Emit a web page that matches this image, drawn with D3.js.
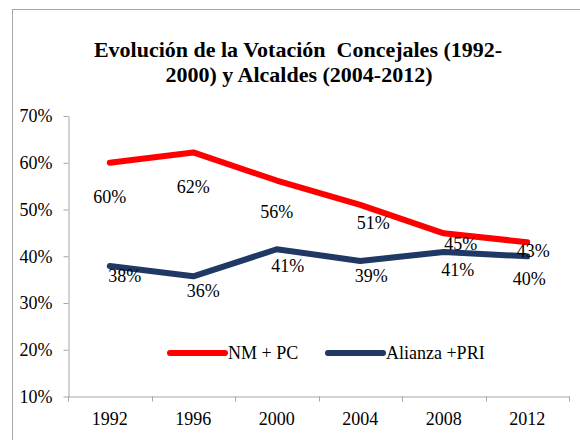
<!DOCTYPE html>
<html>
<head>
<meta charset="utf-8">
<script src="https://cdn.jsdelivr.net/npm/d3@7"></script>
<style>
  body { margin: 0; background: #fff; }
</style>
</head>
<body>
<script>
var years = ['1992', '1996', '2000', '2004', '2008', '2012'];
var nmpc = [60.0, 62.2, 56.2, 51.0, 44.9, 43.0];
var alianza = [37.9, 35.7, 41.5, 39.0, 40.9, 40.0];
var nmpcLabels = ['60%', '62%', '56%', '51%', '45%', '43%'];
var alianzaLabels = ['38%', '36%', '41%', '39%', '41%', '40%'];
var yTicks = [10, 20, 30, 40, 50, 60, 70];
var seriesNames = ['NM + PC', 'Alianza +PRI'];

// label nudges as the source chart has them (dx, dy in px)
var nmpcNudge = [[0, 34], [0, 34], [0, 31], [13, 18], [17, 10], [6, 8]];
var alianzaNudge = [[15, 10], [10, 14], [11, 16], [11, 15], [14, 18], [2, 22]];

var w = 580, h = 440;
var red = '#ff0000', navy = '#1f3864';
var serif = 'Liberation Serif';

var svg = d3.select('body').append('svg')
    .attr('width', w)
    .attr('height', h);

// chart frame
svg.append('rect')
    .attr('x', 12.5).attr('y', 9.5)
    .attr('width', 700).attr('height', 600)
    .attr('fill', 'none')
    .attr('stroke', '#a6a6a6');

svg.append('text')
    .attr('x', 298).attr('y', 57)
    .attr('text-anchor', 'middle')
    .style('font-family', serif)
    .style('font-size', '22px').style('font-weight', 'bold')
    .text('Evolución de la Votación\u00a0 Concejales (1992-');
svg.append('text')
    .attr('x', 299).attr('y', 82)
    .attr('text-anchor', 'middle')
    .style('font-family', serif)
    .style('font-size', '22px').style('font-weight', 'bold')
    .text('2000) y Alcaldes (2004-2012)');

var x = d3.scaleBand().domain(years).range([68, 569]);
var y = d3.scaleLinear().domain([10, 70]).range([396.5, 116]);

var yAxis = svg.append('g')
    .attr('transform', 'translate(68.5,0)')
    .call(d3.axisLeft(y).tickValues(yTicks).tickFormat(function(d) { return d + '%'; })
        .tickSize(5).tickSizeOuter(0).tickPadding(11));
yAxis.selectAll('text').style('font-family', serif).style('font-size', '18px').attr('fill', '#000');
yAxis.selectAll('line, path').attr('stroke', '#a6a6a6');

var xAxis = svg.append('g')
    .attr('transform', 'translate(0,396.5)')
    .call(d3.axisBottom(x).tickSize(0).tickPadding(16));
xAxis.selectAll('text').style('font-family', serif).style('font-size', '18px').attr('fill', '#000');
xAxis.select('path').attr('stroke', '#a6a6a6');
xAxis.selectAll('.tick line').remove();
xAxis.selectAll('line.bound')
    .data(years.map(function(d) { return x(d); }).concat([x.range()[1]]))
    .enter().append('line')
    .attr('class', 'bound')
    .attr('x1', function(d) { return Math.round(d) + 0.5; })
    .attr('x2', function(d) { return Math.round(d) + 0.5; })
    .attr('y1', 0).attr('y2', 5)
    .attr('stroke', '#a6a6a6');

var cx = function(d, i) { return x(years[i]) + x.bandwidth() / 2; };

var line = d3.line()
    .x(function(d, i) { return cx(d, i); })
    .y(function(d) { return y(d); });

var series = [
    { values: nmpc, labels: nmpcLabels, nudge: nmpcNudge, color: red },
    { values: alianza, labels: alianzaLabels, nudge: alianzaNudge, color: navy }
];

series.forEach(function(s) {
    svg.append('path')
        .datum(s.values)
        .attr('d', line)
        .attr('fill', 'none')
        .attr('stroke', s.color)
        .attr('stroke-width', 6)
        .attr('stroke-linejoin', 'round')
        .attr('stroke-linecap', 'round');
});

series.forEach(function(s) {
    svg.selectAll(null)
        .data(s.values)
        .enter().append('text')
        .attr('x', function(d, i) { return cx(d, i) + s.nudge[i][0]; })
        .attr('y', function(d, i) { return y(d) + s.nudge[i][1]; })
        .attr('dy', '0.35em')
        .attr('text-anchor', 'middle')
        .style('font-family', serif)
        .style('font-size', '18px')
        .text(function(d, i) { return s.labels[i]; });
});

// legend
var legend = svg.append('g').attr('transform', 'translate(0,353)');
var legendX = [170, 328];
seriesNames.forEach(function(name, i) {
    legend.append('line')
        .attr('x1', legendX[i]).attr('x2', legendX[i] + 55)
        .attr('y1', 0).attr('y2', 0)
        .attr('stroke', series[i].color)
        .attr('stroke-width', 6)
        .attr('stroke-linecap', 'round');
    legend.append('text')
        .attr('x', legendX[i] + 58)
        .attr('dy', '0.35em')
        .style('font-family', serif)
        .style('font-size', '18px')
        .text(name);
});
</script>
</body>
</html>
